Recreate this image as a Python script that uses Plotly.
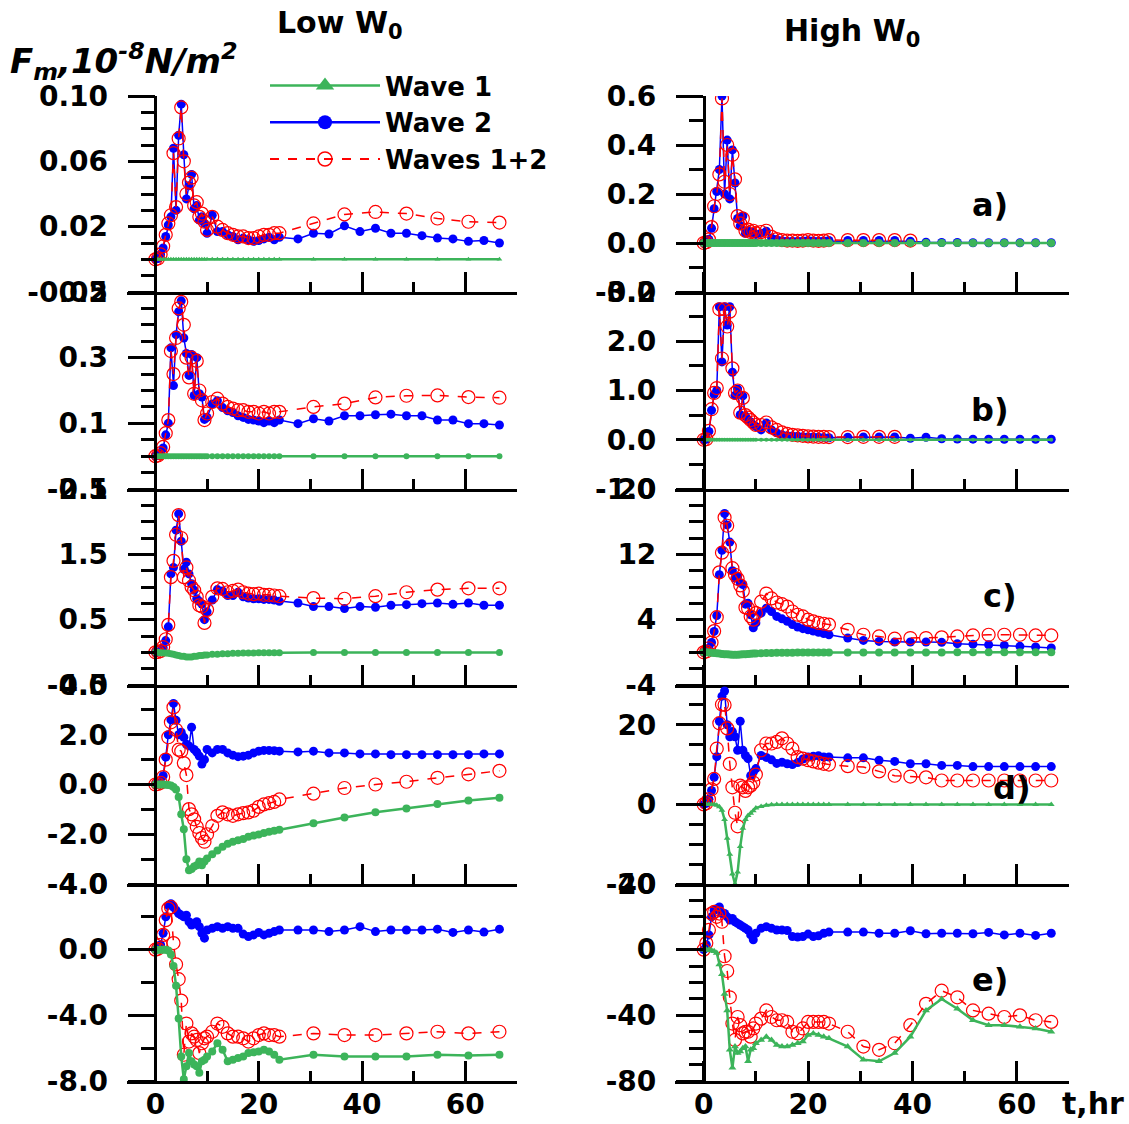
import plotly.graph_objects as go

FIG_W, FIG_H = 1129, 1124
BLUE = "#0000ff"
RED = "#ff0000"
GREEN = "#3cb45a"
FONT = "DejaVu Sans"

# ---- time axes (hours) ----
T_DENSE = [0, 0.5, 1, 1.5, 2, 2.5, 3, 3.5, 4, 4.5, 5, 5.5, 6, 6.5, 7, 7.5, 8, 8.5, 9, 9.5, 10,
           11, 12, 13, 14, 15, 16, 17, 18, 19, 20, 21, 22, 23, 24]
T_3H = [27.6, 30.6, 33.6, 36.6, 39.6, 42.6, 45.6, 48.6, 51.6, 54.6, 57.6, 60.6, 63.6, 66.6]
T_6H = [30.6, 36.6, 42.6, 48.6, 54.6, 60.6, 66.6]
T_3H_TO_39 = [27.6, 30.6, 33.6, 36.6, 39.6]
T_3H_TO_36 = [27.6, 30.6, 33.6, 36.6]

# ---- Low W0, panel a ----
LA_W1 = [0, 0, 0, 0, 0, 0, 0, 0, 0, 0, 0, 0, 0, 0, 0, 0, 0, 0, 0, 0, 0,
         0, 0, 0, 0, 0, 0, 0, 0, 0, 0, 0, 0, 0, 0]
LA_W1_LATE = [0, 0, 0, 0, 0, 0, 0]
LA_W2 = [0, 0.0005, 0.003, 0.007, 0.014, 0.021, 0.026, 0.068, 0.030, 0.076, 0.095, 0.064, 0.037, 0.045,
         0.052, 0.031, 0.033, 0.024, 0.026, 0.022, 0.016,
         0.027, 0.017, 0.017, 0.015, 0.014, 0.012, 0.013, 0.012, 0.011, 0.0115, 0.0125, 0.0135, 0.012, 0.0135]
LA_W2_LATE = [0.0125, 0.016, 0.0155, 0.0205, 0.017, 0.019, 0.016, 0.016, 0.0145, 0.013, 0.0125, 0.011, 0.0115, 0.010]
LA_W12 = [0, 0.0005, 0.003, 0.008, 0.015, 0.022, 0.027, 0.065, 0.032, 0.074, 0.093, 0.060, 0.040, 0.047,
          0.050, 0.033, 0.035, 0.026, 0.028, 0.023, 0.018,
          0.026, 0.020, 0.018, 0.016, 0.015, 0.014, 0.014, 0.013, 0.013, 0.014, 0.015, 0.015, 0.016, 0.016]
LA_W12_LATE = [0.022, 0.0275, 0.029, 0.028, 0.025, 0.023, 0.0225]

# ---- Low W0, panel b ----
LB_W1 = [0, 0, 0, 0, 0, 0, 0, 0, 0, 0, 0, 0, 0, 0, 0, 0, 0, 0, 0, 0, 0,
         0, 0, 0, 0, 0, 0, 0, 0, 0, 0, 0, 0, 0, 0]
LB_W1_LATE = [0, 0, 0, 0, 0, 0, 0]
LB_W2 = [0, 0.002, 0.008, 0.025, 0.065, 0.10, 0.33, 0.215, 0.37, 0.44, 0.473, 0.36, 0.313, 0.246, 0.31,
         0.185, 0.30, 0.19, 0.18, 0.112, 0.118,
         0.159, 0.169, 0.148, 0.138, 0.133, 0.123, 0.118, 0.112, 0.11, 0.107, 0.102, 0.107, 0.102, 0.11]
LB_W2_LATE = [0.099, 0.114, 0.107, 0.123, 0.123, 0.126, 0.128, 0.123, 0.123, 0.11, 0.11, 0.099, 0.099, 0.095]
LB_W12 = [0, 0.002, 0.009, 0.028, 0.07, 0.11, 0.32, 0.25, 0.36, 0.45, 0.47, 0.40, 0.30, 0.24, 0.30,
          0.19, 0.29, 0.20, 0.17, 0.11, 0.13,
          0.165, 0.175, 0.16, 0.15, 0.145, 0.14, 0.14, 0.135, 0.135, 0.13, 0.135, 0.13, 0.135, 0.135]
LB_W12_LATE = [0.15, 0.16, 0.179, 0.184, 0.185, 0.18, 0.178]

# ---- Low W0, panel c ----
LC_W1 = [0, 0, -0.005, -0.01, -0.01, -0.015, -0.02, -0.03, -0.04, -0.05, -0.06, -0.06, -0.07, -0.07,
         -0.07, -0.06, -0.06, -0.05, -0.05, -0.04, -0.04,
         -0.03, -0.03, -0.02, -0.02, -0.015, -0.015, -0.01, -0.01, -0.01, -0.008, -0.008, -0.005, -0.005, -0.005]
LC_W1_LATE = [-0.003, -0.002, -0.002, -0.001, -0.001, -0.001, -0.001]
LC_W2 = [0, 0.005, 0.02, 0.07, 0.18, 0.39, 1.2, 1.3, 1.87, 2.12, 1.70, 1.27, 1.38, 1.2, 1.05, 0.95,
         0.82, 0.78, 0.74, 0.5, 0.62,
         0.80, 0.96, 0.94, 0.87, 0.87, 0.92, 0.85, 0.83, 0.82, 0.82, 0.81, 0.81, 0.80, 0.78]
LC_W2_LATE = [0.755, 0.70, 0.70, 0.67, 0.70, 0.69, 0.72, 0.73, 0.745, 0.755, 0.735, 0.755, 0.72, 0.72]
LC_W12 = [0, 0.005, 0.02, 0.08, 0.2, 0.42, 1.15, 1.4, 1.8, 2.1, 1.75, 1.15, 1.3, 1.1, 1.0, 0.95,
          0.85, 0.72, 0.70, 0.45, 0.65,
          0.85, 0.98, 0.97, 0.92, 0.94, 0.96, 0.92, 0.90, 0.89, 0.90, 0.88, 0.88, 0.87, 0.86]
LC_W12_LATE = [0.83, 0.82, 0.86, 0.92, 0.96, 0.98, 0.98]

# ---- Low W0, panel d ----
LD_W1 = [0, 0, 0, 0, -0.01, -0.02, -0.04, -0.1, -0.2, -0.5, -1.2, -1.8, -3.0, -3.45, -3.4, -3.3,
         -3.25, -3.1, -3.25, -3.1, -2.97,
         -2.8, -2.65, -2.5, -2.38, -2.3, -2.24, -2.19, -2.1, -2.05, -2.01, -1.95, -1.9, -1.86, -1.82]
LD_W1_LATE = [-1.56, -1.33, -1.12, -0.96, -0.78, -0.64, -0.53]
LD_W2 = [0, 0.02, 0.08, 0.35, 1.1, 2.0, 2.6, 3.26, 2.58, 2.0, 2.1, 1.9, 1.62, 1.55, 2.3, 1.41,
         1.3, 1.14, 0.82, 1.0, 1.41,
         1.27, 1.41, 1.41, 1.27, 1.18, 1.12, 1.14, 1.18, 1.27, 1.34, 1.37, 1.37, 1.36, 1.34]
LD_W2_LATE = [1.31, 1.34, 1.27, 1.27, 1.23, 1.23, 1.2, 1.2, 1.2, 1.2, 1.2, 1.2, 1.23, 1.23]
LD_W12 = [0, 0.02, 0.07, 0.3, 1.0, 1.9, 2.5, 3.1, 2.2, 1.4, 1.34, 0.86, 0.38, -0.99, -1.2, -1.4,
          -1.7, -1.95, -2.15, -2.3, -2.0,
          -1.67, -1.26, -1.12, -1.2, -1.26, -1.2, -1.15, -1.12, -1.05, -0.9, -0.8, -0.75, -0.7, -0.6]
LD_W12_LATE = [-0.37, -0.14, 0.0, 0.11, 0.27, 0.41, 0.55]

# ---- Low W0, panel e ----
LE_W1 = [0, 0, 0, 0, 0, -0.05, -0.3, -1.0, -2.2, -4.2, -6.5, -7.9, -7.1, -6.3, -6.8, -7.0,
         -7.1, -7.5, -6.8, -6.7, -6.5,
         -6.2, -5.7, -6.1, -6.8, -6.7, -6.6, -6.5, -6.3, -6.25, -6.2, -6.1, -6.2, -6.4, -6.7]
LE_W1_LATE = [-6.4, -6.5, -6.5, -6.5, -6.4, -6.45, -6.4]
LE_W2 = [0, 0.05, 0.3, 1.0, 2.0, 2.7, 2.8, 2.6, 2.4, 2.2, 2.1, 2.0, 2.1, 1.7, 1.5, 1.6,
         1.7, 1.4, 1.0, 0.7, 1.2,
         1.3, 1.4, 1.3, 1.4, 1.3, 1.3, 0.95, 0.8, 0.9, 1.05, 0.9, 1.0, 1.1, 1.2]
LE_W2_LATE = [1.2, 1.2, 1.1, 1.2, 1.4, 1.1, 1.2, 1.2, 1.2, 1.25, 1.05, 1.2, 1.07, 1.25]
LE_W12 = [0, 0.05, 0.3, 0.9, 1.8, 2.5, 2.6, 0.4, -0.9, -1.8, -3.1, -6.4, -4.5, -5.6, -5.1, -5.3,
          -5.5, -6.3, -5.7, -5.4, -5.3,
          -5.0, -4.5, -4.7, -5.1, -5.3, -5.3, -5.4, -5.6, -5.4, -5.2, -5.1, -5.2, -5.2, -5.3]
LE_W12_LATE = [-5.1, -5.2, -5.2, -5.1, -5.0, -5.1, -5.0]

# ---- High W0, panel a ----
RA_W1 = [0, 0, 0, 0, 0, 0, 0, 0, 0, 0, 0, 0, 0, 0, 0, 0, 0, 0, 0, 0, 0,
         0, 0, 0, 0, 0, 0, 0, 0, 0, 0, 0, 0, 0, 0]
RA_W1_LATE = [0, 0, 0, 0, 0, 0, 0, 0, 0, 0, 0, 0, 0, 0]
RA_W2 = [0, 0.003, 0.015, 0.06, 0.14, 0.21, 0.3, 0.6, 0.2, 0.42, 0.18, 0.38, 0.245, 0.1, 0.07, 0.11,
         0.04, 0.05, 0.04, 0.045, 0.035,
         0.04, 0.048, 0.02, 0.014, 0.009, 0.007, 0.007, 0.007, 0.008, 0.01, 0.008, 0.007, 0.008, 0.01]
RA_W2_LATE = [0.01, 0.01, 0.01, 0.01, 0.007, 0.003, 0.002, 0.002, 0.001, 0.001, 0.001, 0.001, 0.001, 0.001]
RA_W12 = [0, 0.003, 0.015, 0.065, 0.15, 0.2, 0.28, 0.59, 0.25, 0.40, 0.2, 0.36, 0.26, 0.11, 0.08, 0.1,
          0.05, 0.055, 0.045, 0.05, 0.04,
          0.045, 0.05, 0.025, 0.016, 0.012, 0.01, 0.01, 0.009, 0.01, 0.012, 0.01, 0.009, 0.01, 0.012]
RA_W12_LATE = [0.012, 0.012, 0.012, 0.012, 0.01]

# ---- High W0, panel b ----
RB_W1 = [0, 0, 0, 0, 0, 0, 0, 0, 0, 0, 0, 0, 0, 0, 0, 0, 0, 0, 0, 0, 0,
         0, 0, 0, 0, 0, 0, 0, 0, 0, 0, 0, 0, 0, 0]
RB_W1_LATE = [0, 0, 0, 0, 0, 0, 0, 0, 0, 0, 0, 0, 0, 0]
RB_W2 = [0, 0.01, 0.17, 0.6, 0.92, 1.0, 2.7, 1.58, 2.7, 2.33, 2.7, 1.37, 0.9, 1.03, 0.51, 0.89,
         0.48, 0.41, 0.36, 0.3, 0.27,
         0.2, 0.34, 0.2, 0.14, 0.1, 0.08, 0.075, 0.07, 0.06, 0.055, 0.055, 0.05, 0.045, 0.04]
RB_W2_LATE = [0.05, 0.055, 0.055, 0.055, 0.03, 0.05, 0.02, 0.015, 0.012, 0.01, 0.01, 0.01, 0.01, 0.01]
RB_W12 = [0, 0.01, 0.18, 0.62, 0.95, 1.05, 2.65, 1.65, 2.65, 2.3, 2.6, 1.45, 0.95, 1.0, 0.55, 0.85,
          0.5, 0.45, 0.4, 0.35, 0.3,
          0.3, 0.35, 0.25, 0.2, 0.15, 0.12, 0.1, 0.09, 0.08, 0.07, 0.065, 0.06, 0.06, 0.055]
RB_W12_LATE = [0.055, 0.06, 0.06, 0.06]

# ---- High W0, panel c ----
RC_W1 = [0, 0, -0.02, -0.05, -0.08, -0.1, -0.15, -0.2, -0.22, -0.25, -0.28, -0.3, -0.3, -0.3, -0.28,
         -0.25, -0.22, -0.2, -0.18, -0.15, -0.13,
         -0.1, -0.08, -0.07, -0.06, -0.05, -0.04, -0.04, -0.03, -0.03, -0.02, -0.02, -0.02, -0.02, -0.02]
RC_W1_LATE = [-0.02, -0.02, -0.01, -0.01, -0.01, -0.01, -0.01, 0, 0, 0, 0, 0, 0, 0]
RC_W2 = [0, 0.1, 0.5, 1.2, 2.56, 4.5, 9.5, 12.5, 17.0, 15.6, 13.5, 10.0, 9.1, 9.3, 8.5, 8.3,
         5.9, 6.0, 4.6, 3.0, 3.6,
         4.8, 5.4, 5.0, 4.4, 4.1, 3.8, 3.4, 3.1, 2.9, 2.75, 2.6, 2.45, 2.3, 2.15]
RC_W2_LATE = [1.75, 1.46, 1.34, 1.26, 1.26, 1.26, 1.22, 1.06, 1.0, 0.93, 0.85, 0.73, 0.65, 0.53]
RC_W12 = [0, 0.1, 0.5, 1.2, 2.6, 4.3, 9.8, 12.2, 16.5, 15.5, 13.0, 10.3, 9.5, 9.0, 8.2, 7.5,
          5.5, 5.4, 4.4, 4.0, 4.8,
          6.2, 7.2, 6.6, 6.1, 5.9, 5.6, 5.0, 4.6, 4.4, 4.0, 3.8, 3.6, 3.5, 3.4]
RC_W12_LATE = [2.76, 2.15, 1.95, 1.67, 1.75, 1.75, 1.83, 1.95, 2.07, 2.15, 2.15, 2.15, 2.07, 2.07]

# ---- High W0, panel d ----
RD_W1 = [0, 0, 0, 0, -0.05, -0.2, -0.6, -1.5, -3.8, -8.5, -12.5, -17.5, -20.0, -17.0, -10.6, -6.0,
         -3.8, -2.8, -2.2, -1.6, -0.9,
         -0.5, -0.2, -0.1, -0.05, -0.02, 0, 0, 0, 0, 0, 0, 0, 0, 0]
RD_W1_LATE = [0, 0, 0, 0, 0, 0, 0, 0, 0, 0, 0, 0, 0, 0]
RD_W2 = [0, 0.3, 1.3, 3.5, 6.8, 12, 20.9, 27.2, 28.5, 20.0, 17.0, 18.3, 17.0, 13.6, 20.9, 13.6,
         12.3, 11.5, 7.2, 8.1, 9.0,
         12.3, 11.8, 11.2, 10.3, 10.6, 10.2, 10.0, 10.5, 11.4, 11.9, 12.1, 12.2, 11.9, 11.9]
RD_W2_LATE = [11.7, 11.7, 11.1, 10.8, 10.2, 10.2, 9.8, 9.8, 9.5, 9.5, 9.5, 9.5, 9.5, 9.5]
RD_W12 = [0, 0.3, 1.3, 3.8, 6.4, 14, 20.4, 25.1, 25.0, 19.1, 10.2, 4.3, -2.1, -5.5, 4.7, 4.3,
          3.4, 4.3, 4.7, 5.5, 7.5,
          13.6, 15.3, 15.3, 15.7, 16.6, 15.3, 14.0, 11.9, 11.5, 11.1, 10.8, 10.5, 10.2, 10.0]
RD_W12_LATE = [9.6, 9.4, 8.3, 7.2, 7.0, 6.8, 6.0, 6.0, 6.0, 6.0, 6.0, 6.0, 6.0, 6.0]

# ---- High W0, panel e ----
RE_W1 = [0, 0, 0, -0.5, -1, -2, -9, -15, -27, -37, -61, -72, -59, -63, -62, -60,
         -59, -68, -61, -60, -57,
         -55, -53, -55, -58, -59, -59, -58, -57, -56, -52, -51, -52, -53, -54]
RE_W1_LATE = [-59, -67, -68, -63, -53, -37, -30, -36, -43, -46, -46, -47, -48, -50]
RE_W2 = [0, 3, 9, 20, 24, 25, 26, 22, 22, 20, 18, 19, 17, 16, 15, 14,
         13, 12, 9, 6, 10,
         13, 14, 13, 12, 12, 11.7, 8, 7.7, 8, 9.5, 8, 8.5, 10, 10.7]
RE_W2_LATE = [10.7, 10.7, 10, 10, 11.5, 9.7, 10, 10, 9.7, 10.5, 9, 10, 8.7, 10]
RE_W12 = [0, 4, 12, 22, 23, 20, 22, 17, -4, -13, -29, -45, -55, -41, -46, -51,
          -50, -50, -53, -48, -45,
          -42, -37, -41, -43, -43, -44, -50, -51, -48, -44, -44, -44, -44, -45]
RE_W12_LATE = [-50, -59, -61, -57, -46, -33, -25, -29, -37, -39, -41, -40, -43, -44]

# ---- y tick labels per panel ----
LA_TICKS = [-0.02, 0.02, 0.06, 0.10]
LA_LABELS = ["-0.02", "0.02", "0.06", "0.10"]
LB_TICKS = [-0.1, 0.1, 0.3, 0.5]
LB_LABELS = ["-0.1", "0.1", "0.3", "0.5"]
LC_TICKS = [-0.5, 0.5, 1.5, 2.5]
LC_LABELS = ["-0.5", "0.5", "1.5", "2.5"]
LD_TICKS = [-4, -2, 0, 2, 4]
LD_LABELS = ["-4.0", "-2.0", "0.0", "2.0", "4.0"]
LE_TICKS = [-8, -4, 0, 4]
LE_LABELS = ["-8.0", "-4.0", "0.0", "4.0"]
RA_TICKS = [-0.2, 0.0, 0.2, 0.4, 0.6]
RA_LABELS = ["-0.2", "0.0", "0.2", "0.4", "0.6"]
RB_TICKS = [-1, 0, 1, 2, 3]
RB_LABELS = ["-1.0", "0.0", "1.0", "2.0", "3.0"]
RC_TICKS = [-4, 4, 12, 20]
RC_LABELS = ["-4", "4", "12", "20"]
RD_TICKS = [-20, 0, 20]
RD_LABELS = ["-20", "0", "20"]
RE_TICKS = [-80, -40, 0, 40]
RE_LABELS = ["-80", "-40", "0", "40"]

X_TICKS = [0, 20, 40, 60]
X_MINOR = [10, 30, 50]
X_RANGE = [-5.5, 70]

# pixel layout of the two columns and five rows
COL_PX = {"L": (127, 517), "R": (675, 1069)}
YAXIS_PX = {"L": 155.4, "R": 703.7}
ROW_PX = [96, 292, 489, 685, 884, 1081]

PANELS = [
    dict(col="L", row=0, yr=[-0.02, 0.10], tv=LA_TICKS, tt=LA_LABELS, minor=0.01,
         w1=(T_DENSE + T_6H, LA_W1 + LA_W1_LATE), w2=(T_DENSE + T_3H, LA_W2 + LA_W2_LATE),
         w12=(T_DENSE + T_6H, LA_W12 + LA_W12_LATE), gsym="triangle-up", gsize=5),
    dict(col="L", row=1, yr=[-0.1, 0.5], tv=LB_TICKS, tt=LB_LABELS, minor=0.05,
         w1=(T_DENSE + T_6H, LB_W1 + LB_W1_LATE), w2=(T_DENSE + T_3H, LB_W2 + LB_W2_LATE),
         w12=(T_DENSE + T_6H, LB_W12 + LB_W12_LATE), gsym="circle", gsize=6),
    dict(col="L", row=2, yr=[-0.5, 2.5], tv=LC_TICKS, tt=LC_LABELS, minor=0.25,
         w1=(T_DENSE + T_6H, LC_W1 + LC_W1_LATE), w2=(T_DENSE + T_3H, LC_W2 + LC_W2_LATE),
         w12=(T_DENSE + T_6H, LC_W12 + LC_W12_LATE), gsym="circle", gsize=7),
    dict(col="L", row=3, yr=[-4, 4], tv=LD_TICKS, tt=LD_LABELS, minor=1,
         w1=(T_DENSE + T_6H, LD_W1 + LD_W1_LATE), w2=(T_DENSE + T_3H, LD_W2 + LD_W2_LATE),
         w12=(T_DENSE + T_6H, LD_W12 + LD_W12_LATE), gsym="circle", gsize=8),
    dict(col="L", row=4, yr=[-8, 4], tv=LE_TICKS, tt=LE_LABELS, minor=2,
         w1=(T_DENSE + T_6H, LE_W1 + LE_W1_LATE), w2=(T_DENSE + T_3H, LE_W2 + LE_W2_LATE),
         w12=(T_DENSE + T_6H, LE_W12 + LE_W12_LATE), gsym="circle", gsize=8),
    dict(col="R", row=0, yr=[-0.2, 0.6], tv=RA_TICKS, tt=RA_LABELS, minor=0.1,
         w1=(T_DENSE + T_3H, RA_W1 + RA_W1_LATE), w2=(T_DENSE + T_3H, RA_W2 + RA_W2_LATE),
         w12=(T_DENSE + T_3H_TO_39, RA_W12 + RA_W12_LATE), gsym="circle", gsize=8),
    dict(col="R", row=1, yr=[-1, 3], tv=RB_TICKS, tt=RB_LABELS, minor=0.5,
         w1=(T_DENSE + T_3H, RB_W1 + RB_W1_LATE), w2=(T_DENSE + T_3H, RB_W2 + RB_W2_LATE),
         w12=(T_DENSE + T_3H_TO_36, RB_W12 + RB_W12_LATE), gsym="circle", gsize=4),
    dict(col="R", row=2, yr=[-4, 20], tv=RC_TICKS, tt=RC_LABELS, minor=2,
         w1=(T_DENSE + T_3H, RC_W1 + RC_W1_LATE), w2=(T_DENSE + T_3H, RC_W2 + RC_W2_LATE),
         w12=(T_DENSE + T_3H, RC_W12 + RC_W12_LATE), gsym="circle", gsize=8),
    dict(col="R", row=3, yr=[-20, 30], tv=RD_TICKS, tt=RD_LABELS, minor=5,
         w1=(T_DENSE + T_3H, RD_W1 + RD_W1_LATE), w2=(T_DENSE + T_3H, RD_W2 + RD_W2_LATE),
         w12=(T_DENSE + T_3H, RD_W12 + RD_W12_LATE), gsym="triangle-up", gsize=6),
    dict(col="R", row=4, yr=[-80, 40], tv=RE_TICKS, tt=RE_LABELS, minor=10,
         w1=(T_DENSE + T_3H, RE_W1 + RE_W1_LATE), w2=(T_DENSE + T_3H, RE_W2 + RE_W2_LATE),
         w12=(T_DENSE + T_3H, RE_W12 + RE_W12_LATE), gsym="triangle-up", gsize=7),
]

PANEL_TAGS = ["a)", "b)", "c)", "d)", "e)"]
TAG_PX = [(990, 205), (990, 410), (1000, 596), (1012, 788), (990, 980)]

fig = go.Figure()
layout = {}
TICK_FONT = dict(family=FONT, size=28, color="black", weight="bold")

for i, p in enumerate(PANELS):
    n = i + 1
    sx = "" if n == 1 else str(n)
    xname, yname = "x" + sx, "y" + sx
    x0, x1 = COL_PX[p["col"]]
    top, bot = ROW_PX[p["row"]], ROW_PX[p["row"] + 1]

    layout["xaxis" + sx] = dict(
        domain=[x0 / FIG_W, x1 / FIG_W], range=X_RANGE, anchor=yname, automargin=False,
        showline=True, linecolor="black", linewidth=2.5,
        ticks="inside", ticklen=20, tickwidth=2.5, tickcolor="black",
        tickmode="array", tickvals=X_TICKS, ticktext=[str(v) for v in X_TICKS],
        minor=dict(tickmode="array", tickvals=X_MINOR, ticks="inside", ticklen=10,
                   tickwidth=2.5, tickcolor="black", showgrid=False),
        showticklabels=(p["row"] == 4), tickfont=dict(family=FONT, size=28, color="black", weight="bold"),
        ticklabelstandoff=-3, showgrid=False, zeroline=False,
    )
    layout["yaxis" + sx] = dict(
        domain=[1 - bot / FIG_H, 1 - top / FIG_H], range=p["yr"], automargin=False,
        anchor="free", position=YAXIS_PX[p["col"]] / FIG_W,
        showline=True, linecolor="black", linewidth=2.5,
        ticks="outside", ticklen=27, tickwidth=2.5, tickcolor="black",
        tickmode="array", tickvals=p["tv"], ticktext=p["tt"],
        minor=dict(tickmode="linear", tick0=p["yr"][0], dtick=p["minor"], ticks="outside",
                   ticklen=14, tickwidth=2.5, tickcolor="black", showgrid=False),
        tickfont=TICK_FONT, ticklabelstandoff=14, showgrid=False, zeroline=False,
    )

    fig.add_trace(go.Scatter(
        x=p["w2"][0], y=p["w2"][1], mode="lines+markers", xaxis=xname, yaxis=yname,
        line=dict(color=BLUE, width=1.5), marker=dict(color=BLUE, size=9),
        showlegend=False, hoverinfo="skip"))
    fig.add_trace(go.Scatter(
        x=p["w12"][0], y=p["w12"][1], mode="lines+markers", xaxis=xname, yaxis=yname,
        line=dict(color=RED, width=1.5, dash="dash"),
        marker=dict(color=RED, size=13, symbol="circle-open", line=dict(width=1.2, color=RED)),
        showlegend=False, hoverinfo="skip"))
    fig.add_trace(go.Scatter(
        x=p["w1"][0], y=p["w1"][1], mode="lines+markers", xaxis=xname, yaxis=yname,
        line=dict(color=GREEN, width=2.5), marker=dict(color=GREEN, size=p["gsize"], symbol=p["gsym"]),
        showlegend=False, hoverinfo="skip"))

# legend entries
fig.add_trace(go.Scatter(x=[None], y=[None], mode="lines+markers", name="Wave 1",
                         line=dict(color=GREEN, width=2.5),
                         marker=dict(color=GREEN, size=16, symbol="triangle-up")))
fig.add_trace(go.Scatter(x=[None], y=[None], mode="lines+markers", name="Wave 2",
                         line=dict(color=BLUE, width=2.5), marker=dict(color=BLUE, size=14)))
fig.add_trace(go.Scatter(x=[None], y=[None], mode="lines+markers", name="Waves 1+2",
                         line=dict(color=RED, width=2, dash="dash"),
                         marker=dict(color=RED, size=14, symbol="circle-open", line=dict(width=1.5, color=RED))))

annotations = [
    dict(text="Low W<sub>0</sub>", x=340 / FIG_W, y=1 - 25 / FIG_H, xanchor="center", yanchor="middle",
         font=dict(family=FONT, size=30, color="black", weight="bold")),
    dict(text="High W<sub>0</sub>", x=852 / FIG_W, y=1 - 32 / FIG_H, xanchor="center", yanchor="middle",
         font=dict(family=FONT, size=30, color="black", weight="bold")),
    dict(text="<i>F<sub>m</sub>,10<sup>-8</sup>N/m<sup>2</sup></i>", x=8 / FIG_W, y=1 - 62 / FIG_H,
         xanchor="left", yanchor="middle",
         font=dict(family=FONT, size=34, color="black", weight="bold")),
    dict(text="t,hr", x=1093 / FIG_W, y=1 - 1103 / FIG_H, xanchor="center", yanchor="middle",
         font=dict(family=FONT, size=30, color="black", weight="bold")),
]
for tag, (px, py) in zip(PANEL_TAGS, TAG_PX):
    annotations.append(dict(text=tag, x=px / FIG_W, y=1 - py / FIG_H, xanchor="center", yanchor="middle",
                            font=dict(family=FONT, size=32, color="black", weight="bold")))
for a in annotations:
    a.update(xref="paper", yref="paper", showarrow=False)

fig.update_layout(
    **layout,
    width=FIG_W, height=FIG_H,
    margin=dict(l=0, r=0, t=0, b=0, autoexpand=False),
    paper_bgcolor="white", plot_bgcolor="white",
    annotations=annotations,
    showlegend=True,
    legend=dict(x=265 / FIG_W, y=1 - 62 / FIG_H, xanchor="left", yanchor="top",
                font=dict(family=FONT, size=26, color="black", weight="bold"),
                itemwidth=110, tracegroupgap=0, bgcolor="rgba(0,0,0,0)", borderwidth=0),
)

fig.write_html("out.html")
